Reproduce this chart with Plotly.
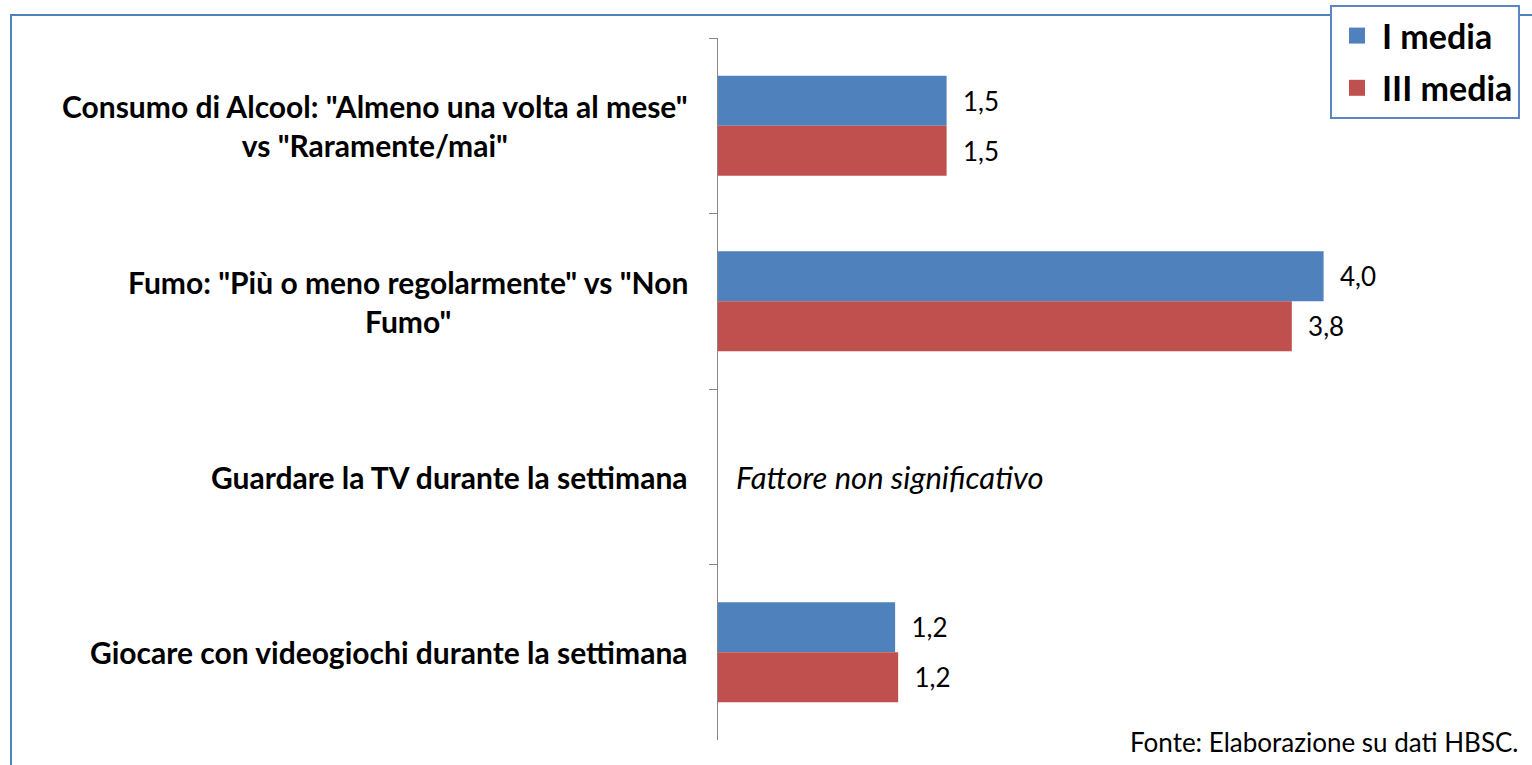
import plotly.graph_objects as go

# ---- data ----
categories = [
    'Consumo di Alcool: "Almeno una volta al mese"<br>vs "Raramente/mai"',
    'Fumo: "Più o meno regolarmente" vs "Non<br>Fumo"',
    'Guardare la TV durante la settimana',
    'Giocare con videogiochi durante la settimana',
]
series_names = ["I media", "III media"]
i_media = [1.51, 4.0, None, 1.17]
iii_media = [1.51, 3.79, None, 1.19]
note_category = categories[2]
note_text = "Fattore non significativo"
source_text = "Fonte: Elaborazione su dati HBSC."

colors = ["#4F81BD", "#C0504D"]
FONT = "Lato"

# ---- layout geometry (pixels) ----
W, H = 1532, 765
L, R, T, B = 718, 1475, 38, 740


def px_x(p):
    return (p - L) / (R - L)


def px_y(p):
    return (B - p) / (B - T)


fig = go.Figure()
for name, vals, col in zip(series_names, [i_media, iii_media], colors):
    fig.add_trace(go.Bar(
        y=categories, x=vals, orientation="h", name=name,
        marker=dict(color=col, line=dict(width=0)),
        texttemplate="\u00a0\u00a0%{x:.1f}", textposition="outside",
        textfont=dict(family=FONT, size=26, color="#000000"),
        cliponaxis=False, showlegend=False, hoverinfo="skip",
    ))

# legend entries with large square markers
for i, (name, col) in enumerate(zip(series_names, colors)):
    fig.add_trace(go.Scatter(
        x=[None], y=[None], mode="markers", name=name,
        marker=dict(symbol="square", size=20, color=col),
        legendgroup=f"g{i}", showlegend=True,
    ))

annotations = []
for cat in categories:
    annotations.append(dict(
        x=px_x(690), xref="paper", y=cat, yref="y",
        text=f"<b>{cat}</b>", showarrow=False, xanchor="right",
        yanchor="middle", align="center",
        font=dict(family=FONT, size=30, color="#000000"),
    ))
annotations.append(dict(
    x=0, xref="x", y=note_category, yref="y", xshift=16,
    text=f"<i>{note_text}</i>", showarrow=False, xanchor="left",
    yanchor="middle", font=dict(family=FONT, size=31, color="#000000"),
))
annotations.append(dict(
    x=px_x(1521), xref="paper", y=px_y(742), yref="paper",
    text=source_text, showarrow=False, xanchor="right", yanchor="middle",
    font=dict(family=FONT, size=26, color="#000000"),
))

shapes = [dict(
    type="rect", xref="paper", yref="paper",
    x0=px_x(11), x1=px_x(W + 20), y0=px_y(15), y1=px_y(H + 20),
    line=dict(color="#4F81BD", width=2), fillcolor="rgba(0,0,0,0)",
    layer="below",
)]

fig.update_layout(
    width=W, height=H,
    margin=dict(l=L, r=W - R, t=T, b=H - B, pad=0, autoexpand=False),
    paper_bgcolor="white", plot_bgcolor="white",
    barmode="group", bargap=0.43, bargroupgap=0,
    separators=",.",
    font=dict(family=FONT, color="#000000"),
    xaxis=dict(range=[0, 5], visible=False, fixedrange=True),
    yaxis=dict(
        autorange="reversed", showline=True, linecolor="#868686", linewidth=1,
        ticks="outside", tickson="boundaries", ticklen=8, tickcolor="#868686",
        tickwidth=1, showticklabels=False, showgrid=False, zeroline=False,
        fixedrange=True,
    ),
    legend=dict(
        x=px_x(1330), y=px_y(5), xanchor="left", yanchor="top",
        bgcolor="white", bordercolor="#5B86C5", borderwidth=2,
        font=dict(family=FONT, size=34, color="#000000", weight="bold"),
        tracegroupgap=5, itemsizing="trace", itemwidth=40,
    ),
    annotations=annotations, shapes=shapes,
)

fig.write_html(
    "out.html",
    config={"displayModeBar": False},
    post_script="document.body.style.margin='0';",
)
